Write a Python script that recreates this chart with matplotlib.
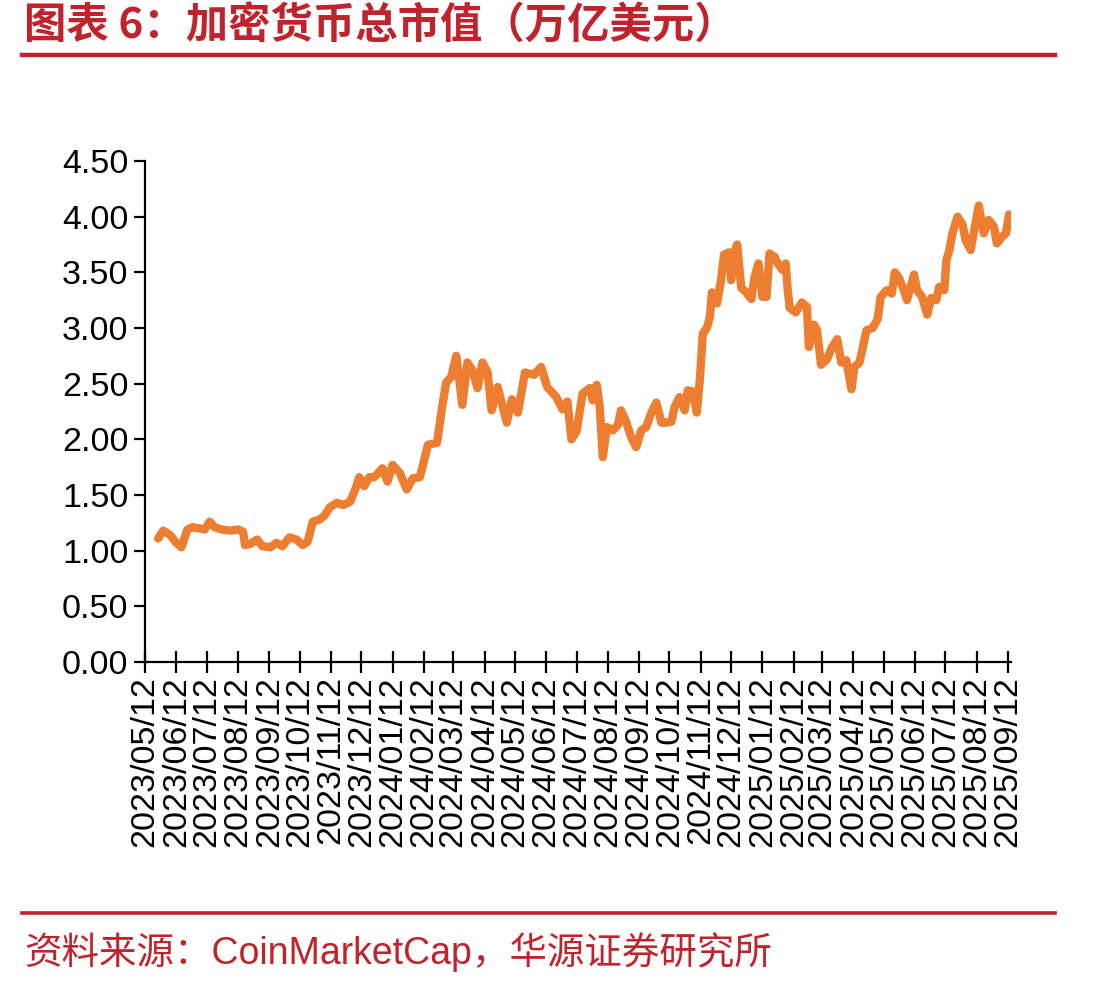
import numpy as np
import pandas as pd
import matplotlib
matplotlib.use("Agg")
import matplotlib.pyplot as plt
from matplotlib.lines import Line2D

TITLE = "图表 6：加密货币总市值（万亿美元）"
SOURCE = "资料来源：CoinMarketCap，华源证券研究所"

# total crypto market cap, trillion USD
dates = [
    "2023-05-25", "2023-05-30", "2023-06-06", "2023-06-11", "2023-06-17", "2023-06-23",
    "2023-06-28", "2023-07-05", "2023-07-10", "2023-07-15", "2023-07-20", "2023-07-27",
    "2023-08-04", "2023-08-12", "2023-08-17", "2023-08-19", "2023-08-24", "2023-08-31",
    "2023-09-05", "2023-09-13", "2023-09-19", "2023-09-25", "2023-10-02", "2023-10-09",
    "2023-10-15", "2023-10-20", "2023-10-25", "2023-11-01", "2023-11-06", "2023-11-11",
    "2023-11-18", "2023-11-24", "2023-12-01", "2023-12-06", "2023-12-10", "2023-12-15",
    "2023-12-20", "2023-12-25", "2024-01-02", "2024-01-07", "2024-01-12", "2024-01-19",
    "2024-01-26", "2024-02-01", "2024-02-08", "2024-02-16", "2024-02-25", "2024-03-01",
    "2024-03-05", "2024-03-10", "2024-03-15", "2024-03-21", "2024-03-26", "2024-03-31",
    "2024-04-05", "2024-04-10", "2024-04-15", "2024-04-19", "2024-04-25", "2024-05-04",
    "2024-05-09", "2024-05-15", "2024-05-22", "2024-05-31", "2024-06-07", "2024-06-13",
    "2024-06-22", "2024-06-28", "2024-07-03", "2024-07-07", "2024-07-12", "2024-07-18",
    "2024-07-25", "2024-07-28", "2024-08-01", "2024-08-04", "2024-08-07", "2024-08-11",
    "2024-08-17", "2024-08-22", "2024-08-25", "2024-08-30", "2024-09-04", "2024-09-09",
    "2024-09-14", "2024-09-19", "2024-09-24", "2024-09-29", "2024-10-04", "2024-10-09",
    "2024-10-14", "2024-10-17", "2024-10-22", "2024-10-27", "2024-10-30", "2024-11-04",
    "2024-11-08", "2024-11-11", "2024-11-14", "2024-11-18", "2024-11-21", "2024-11-23",
    "2024-11-28", "2024-12-02", "2024-12-05", "2024-12-10", "2024-12-12", "2024-12-15",
    "2024-12-18", "2024-12-22", "2024-12-27", "2025-01-01", "2025-01-04", "2025-01-08",
    "2025-01-12", "2025-01-16", "2025-01-19", "2025-01-24", "2025-01-27", "2025-02-01",
    "2025-02-04", "2025-02-06", "2025-02-08", "2025-02-14", "2025-02-20", "2025-02-25",
    "2025-02-27", "2025-03-04", "2025-03-07", "2025-03-11", "2025-03-17", "2025-03-22",
    "2025-03-27", "2025-03-31", "2025-04-05", "2025-04-10", "2025-04-13", "2025-04-18",
    "2025-04-25", "2025-05-01", "2025-05-06", "2025-05-09", "2025-05-15", "2025-05-20",
    "2025-05-23", "2025-05-27", "2025-06-01", "2025-06-04", "2025-06-11", "2025-06-14",
    "2025-06-19", "2025-06-24", "2025-06-28", "2025-07-03", "2025-07-06", "2025-07-11",
    "2025-07-13", "2025-07-16", "2025-07-19", "2025-07-24", "2025-07-29", "2025-08-01",
    "2025-08-06", "2025-08-09", "2025-08-14", "2025-08-19", "2025-08-24", "2025-08-29",
    "2025-09-01", "2025-09-06", "2025-09-10", "2025-09-13",
]
market_cap = [
    1.11, 1.18, 1.14, 1.08, 1.03, 1.19,
    1.21, 1.20, 1.19, 1.26, 1.21, 1.19,
    1.18, 1.19, 1.17, 1.05, 1.06, 1.10,
    1.04, 1.03, 1.07, 1.04, 1.12, 1.10,
    1.05, 1.08, 1.26, 1.28, 1.32, 1.39,
    1.43, 1.41, 1.44, 1.55, 1.66, 1.58,
    1.66, 1.66, 1.74, 1.62, 1.77, 1.70,
    1.55, 1.65, 1.66, 1.95, 1.97, 2.29,
    2.51, 2.56, 2.75, 2.31, 2.69, 2.62,
    2.46, 2.69, 2.60, 2.26, 2.47, 2.15,
    2.36, 2.24, 2.60, 2.58, 2.65, 2.47,
    2.38, 2.27, 2.34, 2.00, 2.07, 2.41,
    2.46, 2.35, 2.49, 2.29, 1.84, 2.11,
    2.08, 2.13, 2.26, 2.16, 2.02, 1.93,
    2.08, 2.11, 2.24, 2.33, 2.15, 2.15,
    2.16, 2.29, 2.38, 2.26, 2.44, 2.43,
    2.24, 2.53, 2.95, 3.00, 3.10, 3.32,
    3.22, 3.43, 3.66, 3.68, 3.43, 3.68,
    3.75, 3.36, 3.32, 3.26, 3.45, 3.58,
    3.28, 3.28, 3.67, 3.64, 3.58, 3.52,
    3.58, 3.34, 3.18, 3.14, 3.23, 3.19,
    2.83, 3.03, 2.98, 2.67, 2.72, 2.83,
    2.90, 2.69, 2.71, 2.45, 2.65, 2.69,
    2.98, 3.00, 3.08, 3.28, 3.34, 3.31,
    3.50, 3.45, 3.34, 3.25, 3.48, 3.34,
    3.28, 3.12, 3.27, 3.25, 3.37, 3.34,
    3.61, 3.70, 3.85, 4.00, 3.93, 3.79,
    3.70, 3.85, 4.10, 3.85, 3.97, 3.91,
    3.76, 3.82, 3.85, 4.02,
]

tick_dates = pd.date_range("2023-05-01", "2025-09-12", freq="MS") + pd.Timedelta(days=11)
y_ticks = [0.0, 0.5, 1.0, 1.5, 2.0, 2.5, 3.0, 3.5, 4.0, 4.5]

RED = "#C0232B"
ORANGE = "#ED7D31"
NUM_FONT = ["Liberation Sans", "Noto Sans CJK SC"]

plt.rcParams["font.family"] = NUM_FONT

fig = plt.figure(figsize=(11.13, 9.86), dpi=100)
ax = fig.add_axes([0.1303, 0.3286, 0.7781, 0.5081])

x = pd.to_datetime(dates)
ax.plot(x, market_cap, color=ORANGE, linewidth=6, solid_joinstyle="round",
        solid_capstyle="round")

ax.set_ylim(0, 4.5)
ax.set_yticks(y_ticks)
ax.set_yticklabels([f"{v:.2f}" for v in y_ticks])
ax.set_xlim(pd.Timestamp("2023-05-12"), pd.Timestamp("2025-09-15"))
ax.set_xticks(tick_dates)
ax.set_xticklabels([d.strftime("%Y/%m/%d") for d in tick_dates], rotation=90)

for side in ["top", "right"]:
    ax.spines[side].set_visible(False)
for side in ["left", "bottom"]:
    ax.spines[side].set_linewidth(1.6)
    ax.spines[side].set_color("black")

ax.tick_params(axis="y", direction="out", length=8, width=1.6, labelsize=24.5, pad=4)
ax.tick_params(axis="x", direction="inout", length=16, width=1.6, labelsize=24.5, pad=2)

# header, rules and footer
fig.text(0.022, 0.973, TITLE, color=RED, fontsize=30.5, fontweight="bold",
         family=["Noto Sans CJK SC"], va="center", ha="left")
fig.add_artist(Line2D([0.02, 0.948], [0.944, 0.944], color=RED, linewidth=3.2,
                      transform=fig.transFigure))
fig.add_artist(Line2D([0.02, 0.948], [0.074, 0.074], color=RED, linewidth=2.6,
                      transform=fig.transFigure))
fig.text(0.022, 0.034, SOURCE, color=RED, fontsize=27, family=NUM_FONT,
         va="center", ha="left")

fig.savefig("out.png", dpi=100)
